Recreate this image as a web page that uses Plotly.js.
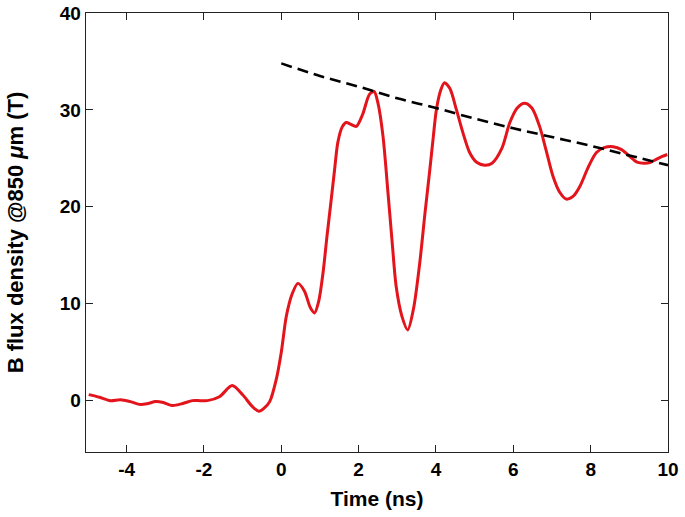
<!DOCTYPE html>
<html>
<head>
<meta charset="utf-8">
<script src="https://cdn.plot.ly/plotly-3.0.1.min.js"></script>
<style>
  body { margin: 0; background: #fff; }
  #chart { width: 685px; height: 517px; }
</style>
</head>
<body>
<div id="chart"></div>
<script>
const time_ns = [
    -4.98, -4.7, -4.42, -4.16, -3.9, -3.64, -3.45, -3.25, -3.05, -2.82, -2.55, -2.3, -2.1, -1.91,
    -1.6, -1.27, -1.0, -0.75, -0.58, -0.45, -0.3, -0.13, 0.0, 0.13, 0.28, 0.43, 0.6, 0.75, 0.86,
    0.97, 1.08, 1.18, 1.29, 1.38, 1.46, 1.57, 1.68, 1.8, 1.94, 2.1, 2.28, 2.4, 2.5, 2.63, 2.76,
    2.87, 2.97, 3.12, 3.27, 3.42, 3.58, 3.72, 3.84, 3.93, 4.01, 4.12, 4.22, 4.36, 4.53, 4.7,
    4.87, 5.05, 5.26, 5.45, 5.7, 5.91, 6.1, 6.29, 6.48, 6.68, 6.85, 7.03, 7.2, 7.37, 7.55,
    7.72, 7.95, 8.15, 8.35, 8.58, 8.8, 9.01, 9.2, 9.4, 9.55, 9.7, 9.85, 9.98
];
const b_flux = [
    0.62, 0.35, 0.0, 0.1, -0.1, -0.4, -0.3, -0.1, -0.2, -0.5, -0.3, 0.0, 0.0, 0.0,
    0.4, 1.55, 0.6, -0.6, -1.1, -0.8, -0.1, 2.2, 5.0, 8.7, 11.0, 12.1, 11.3, 9.6, 9.05,
    10.3, 13.2, 16.9, 20.7, 23.9, 26.6, 28.2, 28.7, 28.5, 28.3, 29.5, 31.6, 31.9, 30.7, 27.3, 21.4,
    16.2, 11.8, 8.7, 7.3, 9.5, 14.2, 19.5, 23.8, 27.2, 30.0, 32.0, 32.8, 32.2, 30.0, 27.6,
    25.6, 24.6, 24.3, 24.5, 26.0, 28.7, 30.2, 30.7, 30.2, 28.3, 25.8, 23.1, 21.5, 20.8, 21.1,
    22.1, 24.2, 25.6, 26.1, 26.2, 25.9, 25.2, 24.6, 24.5, 24.6, 24.9, 25.2, 25.4
];

// decay envelope (dashed)
const envelope_t = [0, 1, 2, 3, 4, 5, 6, 7, 8, 9, 10];
const envelope_b = [34.8, 33.5, 32.4, 31.2, 30.2, 29.1, 28.1, 27.2, 26.3, 25.3, 24.3];

const x_ticks = [-4, -2, 0, 2, 4, 6, 8, 10];
const y_ticks = [0, 10, 20, 30, 40];

const font_family = "Liberation Sans, Arial, Helvetica, sans-serif";

const trace_b = {
    x: time_ns,
    y: b_flux,
    mode: "lines",
    type: "scatter",
    line: { color: "#e3141b", width: 3, shape: "spline", smoothing: 0.8 },
    hoverinfo: "skip",
};

const trace_env = {
    x: envelope_t,
    y: envelope_b,
    mode: "lines",
    type: "scatter",
    line: { color: "black", width: 2.6, dash: "11px,6px", shape: "spline" },
    hoverinfo: "skip",
};

const axis_common = {
    showgrid: false,
    zeroline: false,
    showline: true,
    linecolor: "#222",
    linewidth: 1.4,
    mirror: "ticks",
    ticks: "inside",
    ticklen: 7,
    tickwidth: 1,
    tickcolor: "#222",
    tickfont: { family: font_family, size: 19, color: "black", weight: "bold" },
};

const layout = {
    width: 685,
    height: 517,
    margin: { l: 86, r: 17, t: 13, b: 65 },
    paper_bgcolor: "white",
    plot_bgcolor: "white",
    showlegend: false,
    xaxis: {
        ...axis_common,
        range: [-5.05, 10],
        tickvals: x_ticks,
        ticktext: x_ticks.map(String),
        title: {
            text: "Time (ns)",
            font: { family: font_family, size: 21, color: "black", weight: "bold" },
            standoff: 12,
        },
    },
    yaxis: {
        ...axis_common,
        range: [-5.3, 40],
        tickvals: y_ticks,
        ticktext: y_ticks.map(String),
        title: {
            text: "B flux density @850 <i>μ</i>m (T)",
            font: { family: font_family, size: 22, color: "black", weight: "bold" },
            standoff: 30,
        },
    },
};

Plotly.newPlot("chart", [trace_b, trace_env], layout, { staticPlot: true });
</script>
</body>
</html>
